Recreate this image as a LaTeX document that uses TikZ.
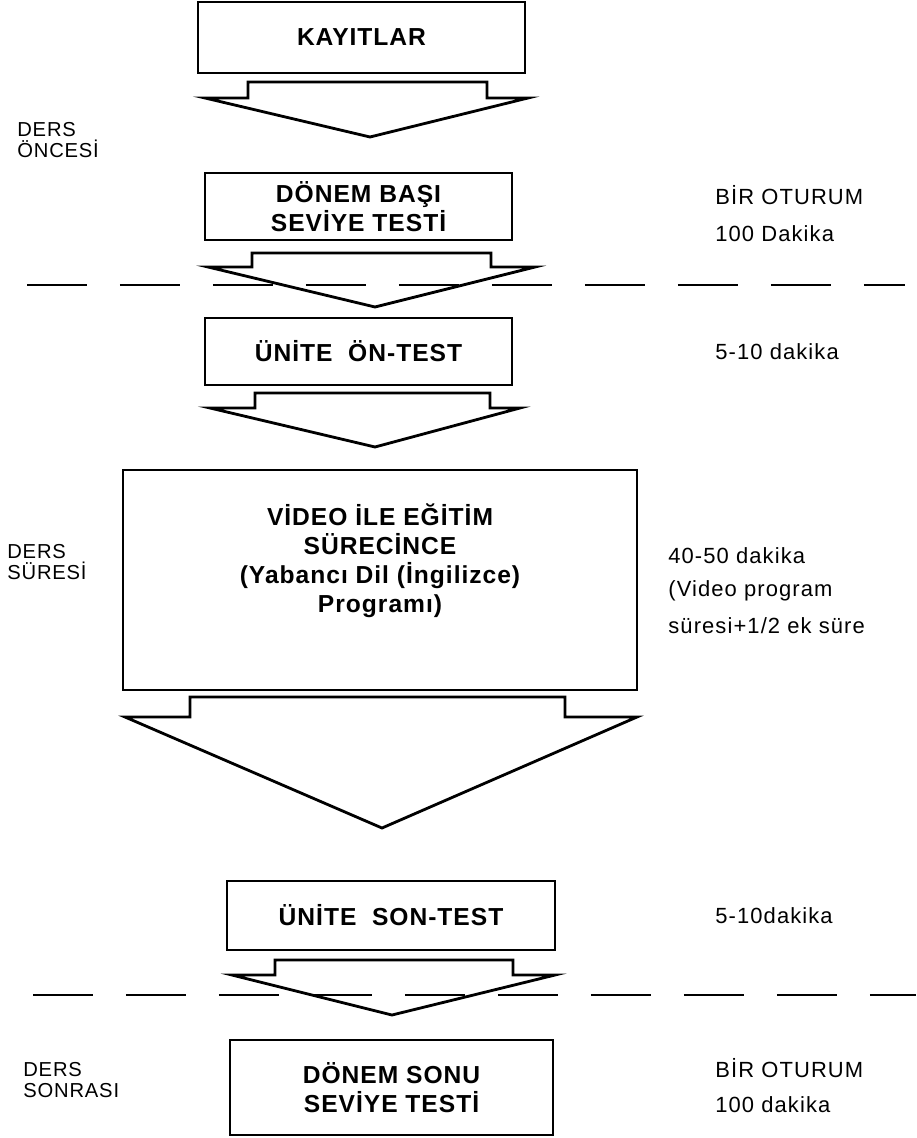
\documentclass[tikz,border=0pt]{standalone}
\usepackage{fontspec}
\setmainfont{Liberation Sans}[LetterSpace=4]
\usetikzlibrary{positioning}

\tikzset{
  kutu/.style={draw, line width=1pt, align=center,
    font=\fontsize{14}{16.5}\selectfont\bfseries},
  blok/.style={line width=1.6pt, line join=miter},
  yan/.style={anchor=west, align=left, inner sep=0pt,
    font=\fontsize{12.5}{12.5}\selectfont\addfontfeatures{LetterSpace=5}},
  sol/.style={anchor=west, align=left, inner sep=0pt,
    font=\fontsize{11.5}{12}\selectfont},
  ayrac/.style={line width=1.4pt, dash pattern=on 1.2cm off 0.66cm}
}

\begin{document}
\begin{tikzpicture}[x=0.02cm, y=-0.02cm]
  \useasboundingbox (0,0) rectangle (916,1138);

  % Kutular
  \node[kutu, minimum width=6.54cm, minimum height=1.42cm] (kayit) at (361.5,37.5) {KAYITLAR};
  \node[kutu, minimum width=6.14cm, minimum height=1.34cm] (basi) at (358.5,206.5) {DÖNEM~BAŞI\\SEVİYE~TESTİ};
  \node[kutu, minimum width=6.14cm, minimum height=1.34cm] (onTest) at (358.5,351.5) {ÜNİTE~~ÖN-TEST};
  \node[kutu, minimum width=10.28cm, minimum height=4.4cm] (video) at (380,580)
    {VİDEO~İLE~EĞİTİM\\SÜRECİNCE\\(Yabancı~Dil~(İngilizce)\\Programı)\\[8pt]};
  \node[kutu, minimum width=6.56cm, minimum height=1.38cm] (sonTest) at (391,915.5) {ÜNİTE~~SON-TEST};
  \node[kutu, minimum width=6.46cm, minimum height=1.9cm] (sonu) at (391.5,1087.5) {DÖNEM~SONU\\SEVİYE~TESTİ};

  % Blok oklar
  \draw[blok] (205,98)--(248,98)--(248,82)--(487,82)--(487,98)--(528,98)--(370,137)--cycle;
  \draw[blok] (208,267)--(252,267)--(252,253)--(491,253)--(491,267)--(535,267)--(375,307)--cycle;
  \draw[blok] (210,408)--(255,408)--(255,393)--(490,393)--(490,408)--(520,408)--(375,447)--cycle;
  \draw[blok] (125,717)--(190,717)--(190,697)--(565,697)--(565,717)--(637,717)--(382,828)--cycle;
  \draw[blok] (232,975)--(275,975)--(275,960)--(513,960)--(513,975)--(555,975)--(392,1015)--cycle;

  % Ayraclar
  \coordinate (s1a) at (27,285);
  \coordinate (s1b) at (905,285);
  \coordinate (s2a) at (33,995);
  \coordinate (s2b) at (916,995);
  \draw[ayrac] (s1a)--(s1b);
  \draw[ayrac] (s2a)--(s2b);

  % Sol etiketler
  \node[sol] (once) at (17,140) {DERS\\ÖNCESİ};
  \node[sol] (sure) at (7,562) {DERS\\SÜRESİ};
  \node[sol] (sonra) at (23,1080) {DERS\\SONRASI};

  % Sag etiketler
  \node[yan] (otur1) at (715,195) {BİR OTURUM};
  \node[yan] (dak1) at (715,234) {100 Dakika};
  \node[yan] (dak2) at (715,352) {5-10 dakika};
  \node[yan] (dak3) at (668,556) {40-50 dakika};
  \node[yan] (prog) at (668,591) {(Video program};
  \node[yan] (ek) at (668,626) {süresi+1/2 ek süre};
  \node[yan] (dak4) at (715,916) {5-10dakika};
  \node[yan] (otur2) at (715,1068) {BİR OTURUM};
  \node[yan] (dak5) at (715,1105) {100 dakika};
\end{tikzpicture}
\end{document}
